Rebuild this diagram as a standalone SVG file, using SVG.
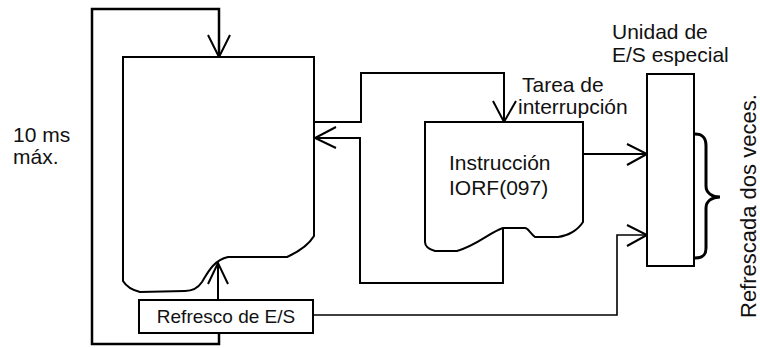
<svg xmlns="http://www.w3.org/2000/svg" width="760" height="348" viewBox="0 0 760 348">
<defs>
<style>
.ln{fill:none;stroke:#000;stroke-width:2;stroke-linejoin:miter}
.bx{fill:#fff;stroke:#000;stroke-width:2}
.ah{fill:none;stroke:#000;stroke-width:2}
.br{fill:none;stroke:#000;stroke-width:3}
.t{font-family:"Liberation Sans",Arial,sans-serif;font-size:21px;fill:#111}
.ts{font-family:"Liberation Sans",Arial,sans-serif;font-size:19px;fill:#111}
</style>
</defs>
<rect width="760" height="348" fill="#fff"/>
<g id="connectors">
<polyline class="ln" points="219,333 219,344 92,344 92,9 219,9 219,57" style="stroke-width:2.5"/>
<polyline class="ah" points="208,35 219,57 230,35"/>
<line class="ln" x1="218" y1="300" x2="218" y2="264"/>
<polyline class="ah" points="208,284 218,263 228,284"/>
<polyline class="ln" points="314,122 361,122 361,73 504,73 504,122"/>
<polyline class="ah" points="493,101 504,122 516,101"/>
<polyline class="ln" points="503,228 503,283 360,283 360,138 315,138"/>
<polyline class="ah" points="336,127 315,138 336,148"/>
<line class="ln" x1="583" y1="154" x2="647" y2="154"/>
<polyline class="ah" points="627,144 647,154 627,165"/>
<polyline class="ln" points="313,315 617,315 617,235 647,235" style="stroke-width:1.6"/>
<polyline class="ah" points="627,225 647,235 627,246"/>
</g>
<g id="main-task">
<path class="bx" d="M123,57 L314,57 L314,236 C308,246 298,252 287,257 L228,257 C214,260 208,272 202,282 C198,288 192,291 185,291 L140,292 C132,290 126,286 123,281 Z"/>
</g>
<g id="interrupt-task">
<path class="bx" d="M425,122 L583,122 L583,222 C578,230 568,236 558,237 L535,237 C530,233 528,228 525,228 L503,228 C490,232 478,245 457,251 L435,251 C428,249 425,246 425,242 Z"/>
<text class="t" x="449" y="170">Instrucción</text>
<text class="t" x="449" y="195">IORF(097)</text>
</g>
<g id="io-refresh">
<rect class="bx" x="139" y="300" width="174" height="33"/>
<text class="ts" x="226" y="323" text-anchor="middle">Refresco de E/S</text>
</g>
<g id="special-unit">
<rect class="bx" x="647" y="74" width="47" height="192"/>
<text class="t" x="612" y="39">Unidad de</text>
<text class="t" x="612" y="62">E/S especial</text>
</g>
<g id="brace">
<path class="br" d="M695,134 C703,134 706,138 706,146 L706,186 C706,193 712,197 720,197 C712,197 706,201 706,208 L706,248 C706,255 703,258 695,258"/>
<text class="t" style="font-size:22px" transform="translate(756,318) rotate(-90)">Refrescada dos veces.</text>
</g>
<g id="labels">
<text class="t" x="13" y="142">10 ms</text>
<text class="t" x="13" y="164">máx.</text>
<text class="t" x="522" y="92">Tarea de</text>
<text class="t" x="518" y="114">interrupción</text>
</g>
</svg>
